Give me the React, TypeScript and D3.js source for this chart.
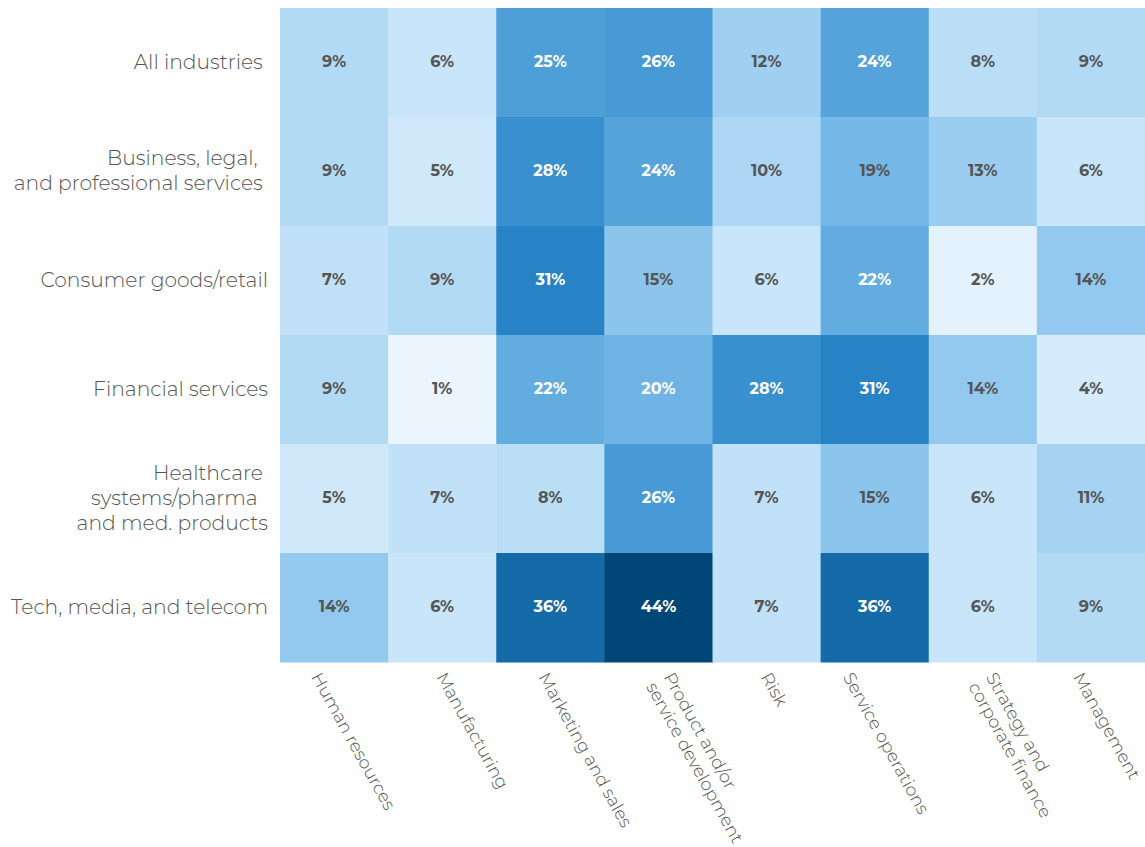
import React from "react";
import * as d3 from "d3";

const industries: string[][] = [
  ["All industries "],
  ["Business, legal,  ", "and professional services "],
  ["Consumer goods/retail"],
  ["Financial services"],
  ["Healthcare ", "systems/pharma  ", "and med. products"],
  ["Tech, media, and telecom"],
];

const functions: string[][] = [
  ["Human resources"],
  ["Manufacturing"],
  ["Marketing and sales"],
  ["Product and/or", "service development"],
  ["Risk"],
  ["Service operations"],
  ["Strategy and", "corporate finance"],
  ["Management"],
];

const allIndustries = [9, 6, 25, 26, 12, 24, 8, 9];
const businessLegal = [9, 5, 28, 24, 10, 19, 13, 6];
const consumerGoods = [7, 9, 31, 15, 6, 22, 2, 14];
const financialServices = [9, 1, 22, 20, 28, 31, 14, 4];
const healthcare = [5, 7, 8, 26, 7, 15, 6, 11];
const techMedia = [14, 6, 36, 44, 7, 36, 6, 9];

const rows = [allIndustries, businessLegal, consumerGoods, financialServices, healthcare, techMedia];

const colorDomain = [1, 5, 9, 15, 20, 24, 28, 31, 36, 44];
const colorRange = ["#eaf5fe", "#cfe8fa", "#b3daf5", "#8cc5ec", "#6fb4e4", "#55a3da", "#3890cf", "#2783c6", "#156aa8", "#004777"];

// layout nudges for the rotated column labels (px, horizontal)
const labelNudge = [7, 24, 18, 25, 24, -2, 23, 12];

export default function App() {
  const W = 1145, H = 847;
  const left = 280, right = 1145, top = 8, bottom = 662;
  const x = d3.scaleBand<number>().domain(d3.range(functions.length)).range([left, right]);
  const y = d3.scaleBand<number>().domain(d3.range(industries.length)).range([top, bottom]);
  const color = d3.scaleLinear<string>().domain(colorDomain).range(colorRange);
  const font = "Montserrat, 'Open Sans', sans-serif";

  return (
    <svg width={W} height={H} style={{ position: "absolute", left: 0, top: 0, background: "#fff" }}>
      {rows.map((row, ri) =>
        row.map((v, ci) => (
          <g key={`${ri}-${ci}`}>
            <rect
              x={x(ci)!}
              y={y(ri)!}
              width={x.bandwidth() + 0.5}
              height={y.bandwidth() + 0.5}
              fill={color(v)}
            />
            <text
              x={x(ci)! + x.bandwidth() / 2}
              y={y(ri)! + y.bandwidth() / 2 - 1}
              textAnchor="middle"
              dominantBaseline="central"
              fontFamily={font}
              fontWeight={700}
              fontSize={16}
              fill={v >= 20 ? "#ffffff" : "#555555"}
            >
              {v}%
            </text>
          </g>
        ))
      )}
      {industries.map((lines, ri) => {
        const cy = y(ri)! + y.bandwidth() / 2 - 1.5;
        const lh = 25;
        const start = cy - ((lines.length - 1) * lh) / 2;
        return (
          <text key={ri} textAnchor="end" fontFamily={font} fontSize={20.3} fill="#555555" fontWeight={300} style={{ whiteSpace: "pre" }}>
            {lines.map((l, i) => (
              <tspan key={i} x={268} y={start + i * lh} dominantBaseline="central">
                {l}
              </tspan>
            ))}
          </text>
        );
      })}
      {functions.map((lines, ci) => {
        const cx = x(ci)! + x.bandwidth() / 2;
        const n = lines.length;
        return (
          <g key={ci} transform={`translate(${cx - 18 + (n - 1) * 10 + labelNudge[ci]},${670}) rotate(61)`}>
            <text fontFamily={font} fontSize={17.5} fill="#555555" fontWeight={300}>
              {lines.map((l, i) => (
                <tspan key={i} x={0} y={14 + i * 20}>
                  {l}
                </tspan>
              ))}
            </text>
          </g>
        );
      })}
    </svg>
  );
}
